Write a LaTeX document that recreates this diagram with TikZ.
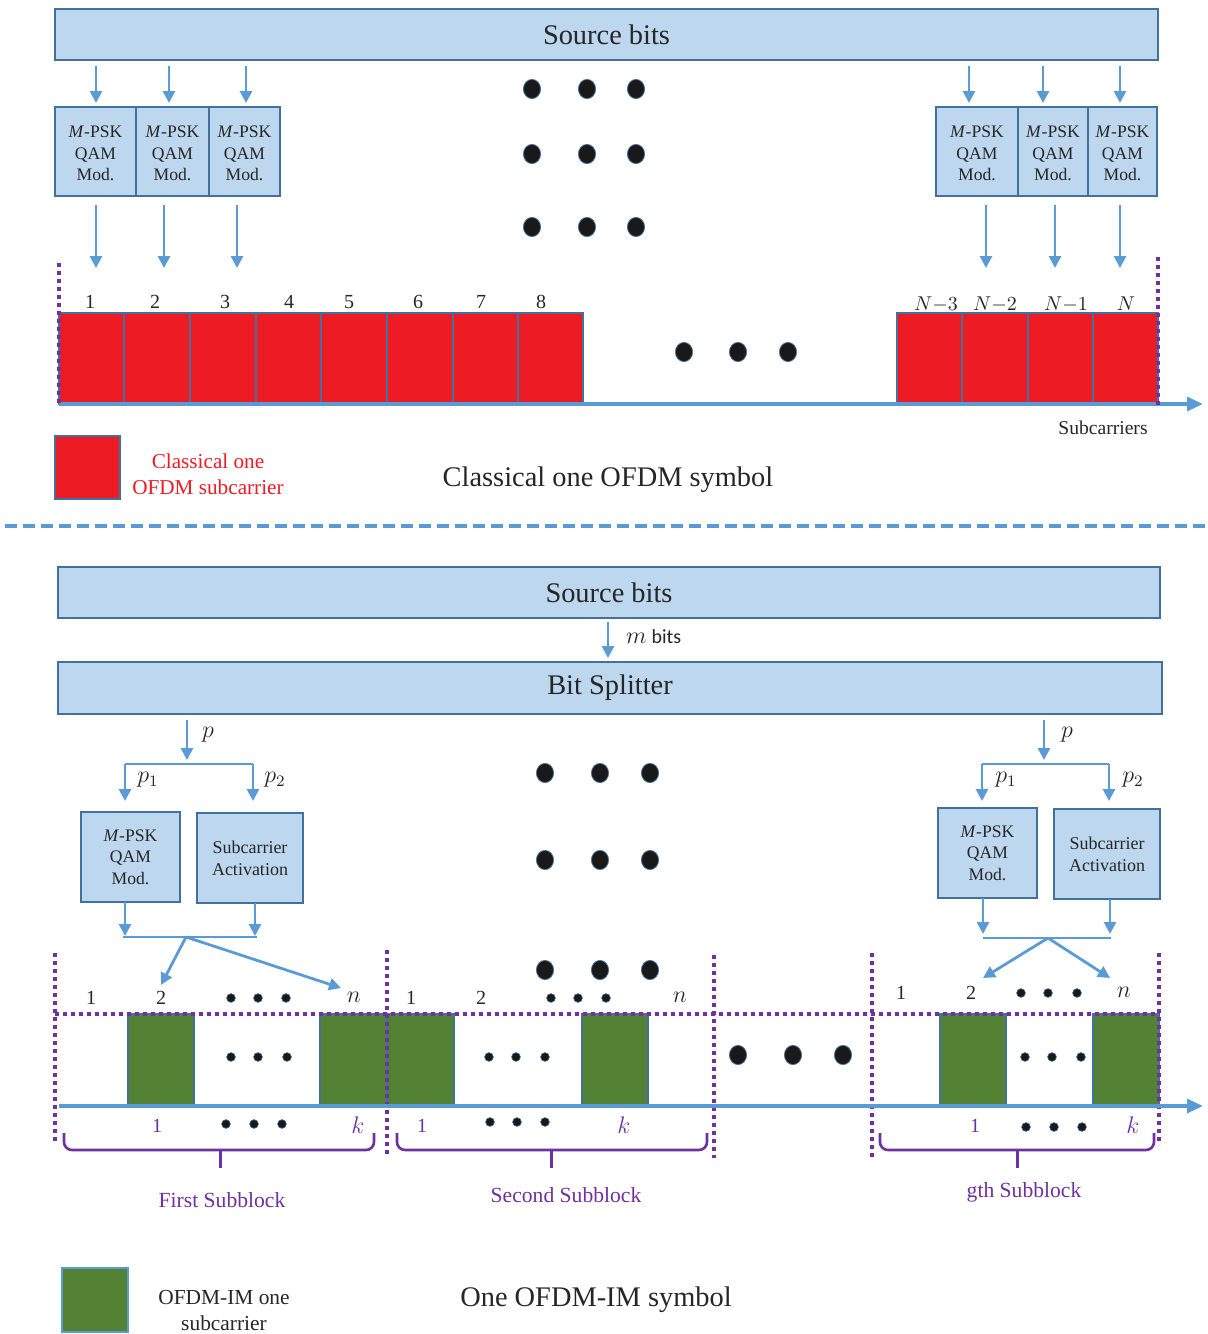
\documentclass[tikz,border=0pt]{standalone}
\usepackage{fontspec}
\setmainfont{Liberation Serif}
\newfontfamily\calibri{Carlito}
\usetikzlibrary{arrows.meta,fit,calc}
\definecolor{boxfill}{HTML}{BDD7EE}
\definecolor{boxline}{HTML}{41719C}
\definecolor{arrblue}{HTML}{5B9BD5}
\definecolor{scred}{HTML}{ED1C24}
\definecolor{imgreen}{HTML}{548235}
\definecolor{purp}{HTML}{7030A0}
\definecolor{txt}{HTML}{262626}
\tikzset{
  box/.style={draw=boxline, fill=boxfill, line width=0.9pt, inner sep=0pt, align=center, text=txt},
  bsize/.style 2 args={minimum width=#1pt, minimum height=#2pt},
  arr/.style={draw=arrblue, line width=1.4pt, -{Triangle[width=6pt,length=6pt]}},
  axarr/.style={draw=arrblue, line width=1.6pt, -{Triangle[width=7pt,length=8pt]}},
  ln/.style={draw=arrblue, line width=1.4pt},
  dotv/.style={draw=purp, line width=2pt, dash pattern=on 2pt off 2pt},
  bigdot/.style={fill=black!90, draw=boxline, line width=0.4pt},
  smalldot/.style={fill=black!90, draw=boxline, line width=0.3pt},
  sc/.style={fill=scred, draw=boxline, line width=0.8pt, inner sep=0pt},
  im/.style={fill=imgreen, draw=boxline, line width=0.8pt, inner sep=0pt},
  big/.style={font=\fontsize{14.2}{16}\selectfont, text=txt},
  modf/.style={font=\fontsize{8.8}{10.8}\selectfont},
  actf/.style={font=\fontsize{9}{11}\selectfont},
  num/.style={font=\fontsize{10}{11}\selectfont, text=txt},
  mnum/.style={font=\fontsize{11.5}{12}\selectfont, text=txt},
  nnum/.style={font=\fontsize{10.3}{12}\selectfont, text=txt},
  pnum/.style={font=\fontsize{10}{11}\selectfont, text=purp},
  sbf/.style={font=\fontsize{10.8}{12}\selectfont, text=purp},
  brace/.style={draw=purp, line width=1.3pt, rounded corners=4pt},
}
\begin{document}
\begin{tikzpicture}[x=0.5pt,y=-0.5pt]
\useasboundingbox (0,0) rectangle (1207,1334);

% ================= TOP =================
\node[box, bsize={551.5}{25.5}, big] (src) at (606.5,34.5) {Source bits};

% modulator boxes
\foreach \n/\c/\w in {m1/95.5/40.5, m2/172.5/36.5, m3/244.5/35.5, m4/977/41, m5/1053/35, m6/1122.5/34.5}{
  \node[box, bsize={\w}{44.5}] (\n) at (\c,151.5) {};
  \node[modf, align=center, text=txt] (\n t) at ([yshift=-1pt]\n.center) {\textit{M}-PSK\\QAM\\Mod.};
}
% arrows into modulators
\foreach \n/\x in {m1/96, m2/169, m3/246, m4/969, m5/1043, m6/1120}{
  \draw[arr] (\x,66) -- (\x,103);
}
% arrows out of modulators
\foreach \n/\x in {m1/96, m2/164, m3/237, m4/986, m5/1055, m6/1120}{
  \draw[arr] (\x,205) -- (\x,268);
}

% big dots top
\foreach \y in {89,154,227}{
  \foreach \x in {532,587,636}{
    \fill[bigdot] (\x,\y) ellipse [x radius=4.3pt, y radius=4.8pt];
  }
}
\foreach \x in {684,738,788}{
  \fill[bigdot] (\x,352) ellipse [x radius=4.3pt, y radius=4.8pt];
}

% red subcarriers
\foreach \i/\a/\b in {1/59/124, 2/124/190, 3/190/256, 4/256/321, 5/321/387, 6/387/453, 7/453/518, 8/518/583, 9/897/962, 10/962/1028, 11/1028/1093, 12/1093/1158}{
  \node[sc, fit={(\a,313)(\b,404)}] (r\i) {};
}
\foreach \t/\x in {1/90, 2/155, 3/225, 4/289, 5/349, 6/418, 7/481, 8/541}{
  \node[num] (lt\t) at (\x,302) {\t};
}
\node[nnum] (ltN3) at (936,304) {$N{-}3$};
\node[nnum] (ltN2) at (995,304) {$N{-}2$};
\node[nnum] (ltN1) at (1066,304) {$N{-}1$};
\node[nnum] (ltN) at (1126,304) {$N$};

% axis top
\draw[axarr] (59,404) -- (1203,404);
\draw[dotv] (59,263) -- (59,404);
\draw[dotv] (1158,257) -- (1158,408);
\node[font=\fontsize{9.8}{11}\selectfont, text=txt] (subc) at (1103,428) {Subcarriers};

% legend top
\node[sc, fit={(55,436)(120,499)}] (legr) {};
\node[font=\fontsize{10.6}{13}\selectfont, text=scred, align=center] (legrt) at (208,474) {Classical one\\ OFDM subcarrier};
\node[big] (ctitle) at (608,480) {Classical one OFDM symbol};

% separator
\draw[arrblue, line width=1.6pt, dash pattern=on 6pt off 3pt] (5,526) -- (1205,526);

% ================= BOTTOM =================
\node[box, bsize={551}{25.5}, big] (src2) at (609,592.5) {Source bits};
\node[box, bsize={552}{26}, big] (split) at (610,688) {Bit Splitter};
\draw[arr] (608,622) -- (608,658);
\node[font=\fontsize{10}{11}\selectfont, text=txt, anchor=west] (mbits) at (619,637) {{\fontsize{11.5}{12}\selectfont$m$} {\calibri bits}};

% left branch
\node[box, modf, bsize={49.5}{45}] (lm) at (130.5,857) {\textit{M}-PSK\\QAM\\Mod.};
\node[box, actf, bsize={53}{45}] (la) at (250,858) {Subcarrier\\Activation};
\draw[arr] (187,720) -- (187,760);
\node[mnum] (lp) at (208,735) {$p$};
\draw[ln] (125,764) -- (253,764);
\draw[arr] (125,764) -- (125,801);
\draw[arr] (253,764) -- (253,801);
\node[mnum] (lp1) at (148,780) {$p_1$};
\node[mnum] (lp2) at (275,780) {$p_2$};
\draw[arr] (125,902) -- (125,936);
\draw[arr] (255,903) -- (255,936);
\draw[ln] (123,937) -- (257,937);
\coordinate (lc) at (186,937);
\draw[arr] (lc) -- (161,985);
\draw[arr] (lc) -- (341,988);

% right branch
\node[box, modf, bsize={49.5}{45}] (rm) at (987.5,853) {\textit{M}-PSK\\QAM\\Mod.};
\node[box, actf, bsize={53}{45}] (ra) at (1107,854) {Subcarrier\\Activation};
\draw[arr] (1044,720) -- (1044,760);
\node[mnum] (rp) at (1067,735) {$p$};
\draw[ln] (982,764) -- (1109,764);
\draw[arr] (982,764) -- (982,801);
\draw[arr] (1109,764) -- (1109,801);
\node[mnum] (rp1) at (1006,780) {$p_1$};
\node[mnum] (rp2) at (1133,780) {$p_2$};
\draw[arr] (983,898) -- (983,934);
\draw[arr] (1110,899) -- (1110,934);
\draw[ln] (983,938) -- (1111,938);
\coordinate (rc) at (1048,938);
\draw[arr] (rc) -- (983,978);
\draw[arr] (rc) -- (1110,978);

% big dots bottom
\foreach \y in {773,860,970}{
  \foreach \x in {545,600,650}{
    \fill[bigdot] (\x,\y) ellipse [x radius=4.3pt, y radius=4.8pt];
  }
}
\foreach \x in {738,793,843}{
  \fill[bigdot] (\x,1055) ellipse [x radius=4.3pt, y radius=4.8pt];
}

% green subcarriers
\foreach \i/\a/\b in {1/128/194, 2/320/387, 3/387/454, 4/582/648, 5/940/1006, 6/1093/1159}{
  \node[im, fit={(\a,1014)(\b,1105)}] (g\i) {};
}

% dotted frame lines
\draw[dotv] (55,1014) -- (1160,1014);
\draw[dotv] (55,953) -- (55,1143);
\draw[dotv] (387,950) -- (387,1155);
\draw[dotv] (714,955) -- (714,1158);
\draw[dotv] (872,953) -- (872,1160);
\draw[dotv] (1159,953) -- (1159,1145);

% axis bottom
\draw[axarr] (59,1106) -- (1203,1106);

% labels above subblocks
\node[num] (a1) at (91,998) {1};
\node[num] (a2) at (161,998) {2};
\node[mnum] (an) at (354,997) {$n$};
\node[num] (b1) at (411,998) {1};
\node[num] (b2) at (481,998) {2};
\node[mnum] (bn) at (680,997) {$n$};
\node[num] (c1) at (901,993) {1};
\node[num] (c2) at (971,993) {2};
\node[mnum] (cn) at (1124,992) {$n$};
\foreach \x/\y in {231/998,258/998,286/998, 551/998,578/998,606/998, 1021/993,1048/993,1077/993,
                   231/1057,258/1057,287/1057, 489/1057,516/1057,545/1057, 1025/1057,1052/1057,1081/1057,
                   226/1124,254/1124,282/1124, 490/1122,517/1122,545/1122, 1026/1127,1054/1127,1082/1127}{
  \fill[smalldot] (\x,\y) circle [radius=2.2pt];
}
% labels below axis
\node[pnum] (d1) at (157,1126) {1};
\node[pnum, font=\fontsize{11.5}{12}\selectfont] (dk) at (358,1125) {$k$};
\node[pnum] (e1) at (422,1126) {1};
\node[pnum, font=\fontsize{11.5}{12}\selectfont] (ek) at (624,1125) {$k$};
\node[pnum] (f1) at (975,1126) {1};
\node[pnum, font=\fontsize{11.5}{12}\selectfont] (fk) at (1133,1125) {$k$};

% braces
\draw[brace] (64,1133) -- (64,1150) -- (374,1150) -- (374,1133);
\draw[purp, line width=1.5pt] (220,1150) -- (220,1168);
\draw[brace] (397,1133) -- (397,1150) -- (707,1150) -- (707,1133);
\draw[purp, line width=1.5pt] (551,1150) -- (551,1168);
\draw[brace] (880,1133) -- (880,1150) -- (1154,1150) -- (1154,1133);
\draw[purp, line width=1.5pt] (1017,1150) -- (1017,1168);

\node[sbf] (sb1) at (222,1200) {First Subblock};
\node[sbf] (sb2) at (566,1195) {Second Subblock};
\node[sbf] (sb3) at (1024,1192) {gth Subblock};

% legend bottom
\node[im, draw=arrblue, fit={(62,1268)(128,1332)}] (legg) {};
\node[font=\fontsize{10.7}{13}\selectfont, text=txt, align=center] (leggt) at (224,1311) {OFDM-IM one\\ subcarrier};
\node[big] (btitle) at (596,1300) {One OFDM-IM symbol};
\end{tikzpicture}
\end{document}
